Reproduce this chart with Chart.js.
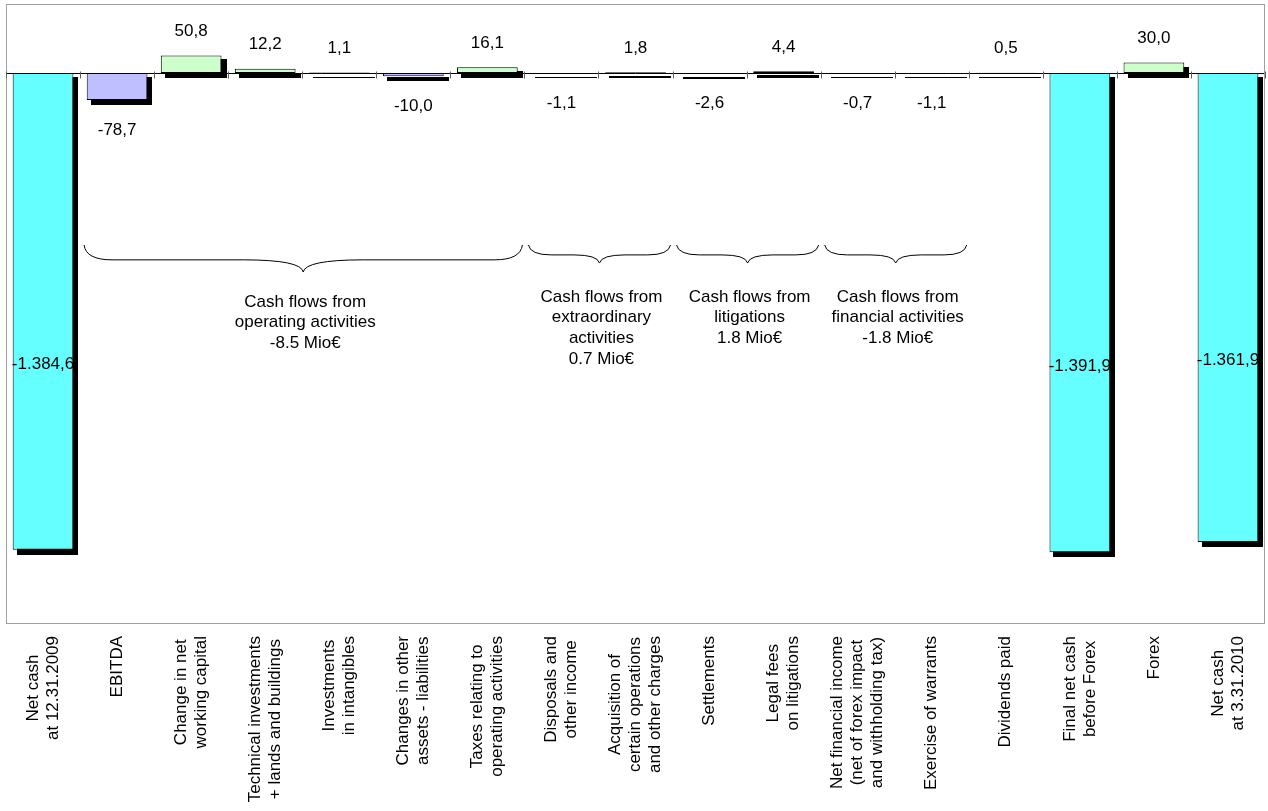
<!DOCTYPE html>
<html>
<head>
<meta charset="utf-8">
<script src="https://cdn.jsdelivr.net/npm/chart.js@4.4.1/dist/chart.umd.min.js"></script>
<style>
html,body{margin:0;padding:0;background:#ffffff;}
canvas{display:block;}
</style>
</head>
<body>
<canvas id="c" width="1268" height="811"></canvas>
<script>
// ---- data ----
const categories = [
  ["Net cash", "at 12.31.2009"],
  ["EBITDA"],
  ["Change in net", "working capital"],
  ["Technical investments", "+ lands and buildings"],
  ["Investments", "in intangibles"],
  ["Changes in other", "assets - liabilities"],
  ["Taxes relating to", "operating activities"],
  ["Disposals and", "other income"],
  ["Acquisition of", "certain operations", "and other charges"],
  ["Settlements"],
  ["Legal fees", "on litigations"],
  ["Net financial income", "(net of forex impact", "and withholding tax)"],
  ["Exercise of warrants"],
  ["Dividends paid"],
  ["Final net cash", "before Forex"],
  ["Forex"],
  ["Net cash", "at 3.31.2010"]
];
const values = [-1384.6, -78.7, 50.8, 12.2, 1.1, -10.0, 16.1, -1.1, 1.8, -2.6, 4.4, -0.7, -1.1, 0.5, -1391.9, 30.0, -1361.9];
const totalIndices = [0, 14, 16];
const groupStart = [1, 7, 9, 11];
const groupEnd = [6, 8, 10, 12];
const groupLabels = [
  ["Cash flows from", "operating activities", "-8.5 Mio€"],
  ["Cash flows from", "extraordinary", "activities", "0.7 Mio€"],
  ["Cash flows from", "litigations", "1.8 Mio€"],
  ["Cash flows from", "financial activities", "-1.8 Mio€"]
];
const yMin = -1600;
const yMax = 200;

// ---- styles ----
const FONT = '"Liberation Sans", Arial, Helvetica, sans-serif';
const FS = 17;
const COLOR_TOTAL = '#66FFFF';
const COLOR_NEG = '#BFBFFF';
const COLOR_POS = '#CCFFCC';

function fmt(v) {
  const sign = v < 0 ? '-' : '';
  const parts = Math.abs(v).toFixed(1).split('.');
  return sign + parts[0].replace(/\B(?=(\d{3})+(?!\d))/g, '.') + ',' + parts[1];
}

function barColor(ctx) {
  const i = ctx.dataIndex;
  if (totalIndices.includes(i)) return COLOR_TOTAL;
  return values[i] < 0 ? COLOR_NEG : COLOR_POS;
}

const framePlugin = {
  id: 'frame',
  beforeDatasetsDraw(chart) {
    const ctx = chart.ctx, ca = chart.chartArea;
    ctx.save();
    ctx.strokeStyle = '#A0A0A0';
    ctx.lineWidth = 1;
    ctx.strokeRect(ca.left + 0.5, ca.top + 0.5, ca.right - ca.left - 1, ca.bottom - ca.top - 1);
    // shadows
    ctx.fillStyle = '#000000';
    chart.getDatasetMeta(0).data.forEach(bar => {
      const p = bar.getProps(['x', 'y', 'base', 'width'], true);
      const l = Math.round(p.x - p.width / 2);
      const r = Math.round(p.x + p.width / 2);
      const t = Math.round(Math.min(p.y, p.base));
      const b = Math.round(Math.max(p.y, p.base));
      ctx.fillRect(l + 4, t + 4, r - l + 1, Math.max(b - t, 0) + 1);
    });
    ctx.restore();
  },
  afterDatasetsDraw(chart) {
    const ctx = chart.ctx, ca = chart.chartArea;
    const xs = chart.scales.x, ys = chart.scales.y;
    const y0 = Math.round(ys.getPixelForValue(0)) + 0.5;
    ctx.save();
    ctx.strokeStyle = '#000000';
    ctx.lineWidth = 1;
    ctx.beginPath();
    ctx.moveTo(ca.left + 1, y0);
    ctx.lineTo(ca.right - 1, y0);
    ctx.stroke();
    ctx.strokeStyle = '#606060';
    ctx.beginPath();
    for (let k = 0; k <= categories.length; k++) {
      const x = Math.round(xs.getPixelForValue(k - 0.5)) + 0.5;
      ctx.moveTo(x, y0 - 2);
      ctx.lineTo(x, y0 + 5);
    }
    ctx.stroke();

    // value labels
    ctx.fillStyle = '#000000';
    ctx.font = FS + 'px ' + FONT;
    ctx.textAlign = 'center';
    ctx.textBaseline = 'middle';
    chart.getDatasetMeta(0).data.forEach((bar, i) => {
      const p = bar.getProps(['x', 'y', 'base'], true);
      const v = values[i];
      let ty;
      if (totalIndices.includes(i)) ty = p.base + (p.y - p.base) * 0.612;
      else if (v >= 0) ty = p.y - 24;
      else ty = p.y + 30;
      ctx.fillText(fmt(v), p.x, ty);
    });
    ctx.restore();
  },
  afterDraw(chart) {
    const ctx = chart.ctx, ca = chart.chartArea;
    const xs = chart.scales.x;
    ctx.save();
    ctx.fillStyle = '#000000';
    ctx.font = FS + 'px ' + FONT;

    // category labels, rotated, lines centred, block ending near the frame
    const lh = 20;
    const topY = ca.bottom + 12;
    categories.forEach((lines, i) => {
      const cx = xs.getPixelForValue(i);
      let maxW = 0;
      lines.forEach(s => { maxW = Math.max(maxW, ctx.measureText(s).width); });
      ctx.save();
      ctx.translate(cx, topY);
      ctx.rotate(-Math.PI / 2);
      ctx.textAlign = 'center';
      ctx.textBaseline = 'middle';
      lines.forEach((s, j) => {
        ctx.fillText(s, -maxW / 2, (j - (lines.length - 1) / 2) * lh);
      });
      ctx.restore();
    });

    // braces and group captions
    ctx.strokeStyle = '#000000';
    ctx.lineWidth = 1;
    groupStart.forEach((s, g) => {
      const x0 = xs.getPixelForValue(s - 0.5) + 4;
      const x1 = xs.getPixelForValue(groupEnd[g] + 0.5) - 2;
      const w = x1 - x0;
      const yTop = 245;
      const depth = w > 300 ? 27 : 18;
      const yMid = yTop + depth * 0.55;
      const yTip = yTop + depth;
      const xc = (x0 + x1) / 2;
      const er = Math.min(28, w * 0.16);
      const cr = Math.min(60, w * 0.18);
      ctx.beginPath();
      ctx.moveTo(x0, yTop);
      ctx.quadraticCurveTo(x0 + 2, yMid, x0 + er, yMid);
      ctx.lineTo(xc - cr, yMid);
      ctx.quadraticCurveTo(xc - 2, yMid, xc, yTip);
      ctx.quadraticCurveTo(xc + 2, yMid, xc + cr, yMid);
      ctx.lineTo(x1 - er, yMid);
      ctx.quadraticCurveTo(x1 - 2, yMid, x1, yTop);
      ctx.stroke();

      ctx.textAlign = 'center';
      ctx.textBaseline = 'middle';
      const firstY = w > 300 ? 302 : 297;
      groupLabels[g].forEach((line, j) => {
        ctx.fillText(line, xc + 2, firstY + j * 20.7);
      });
    });
    ctx.restore();
  }
};

new Chart(document.getElementById('c'), {
  type: 'bar',
  data: {
    labels: categories.map(l => l.join(' ')),
    datasets: [{
      data: values,
      backgroundColor: barColor,
      borderColor: '#000000',
      borderWidth: 1,
      borderSkipped: false,
      barPercentage: 0.82,
      categoryPercentage: 1.0
    }]
  },
  options: {
    responsive: false,
    animation: false,
    devicePixelRatio: 1,
    layout: { padding: { left: 6, right: 3, top: 4, bottom: 187 } },
    scales: {
      x: { display: false, offset: true },
      y: { display: false, min: yMin, max: yMax }
    },
    plugins: {
      legend: { display: false },
      tooltip: { enabled: false }
    },
    events: []
  },
  plugins: [framePlugin]
});
</script>
</body>
</html>
